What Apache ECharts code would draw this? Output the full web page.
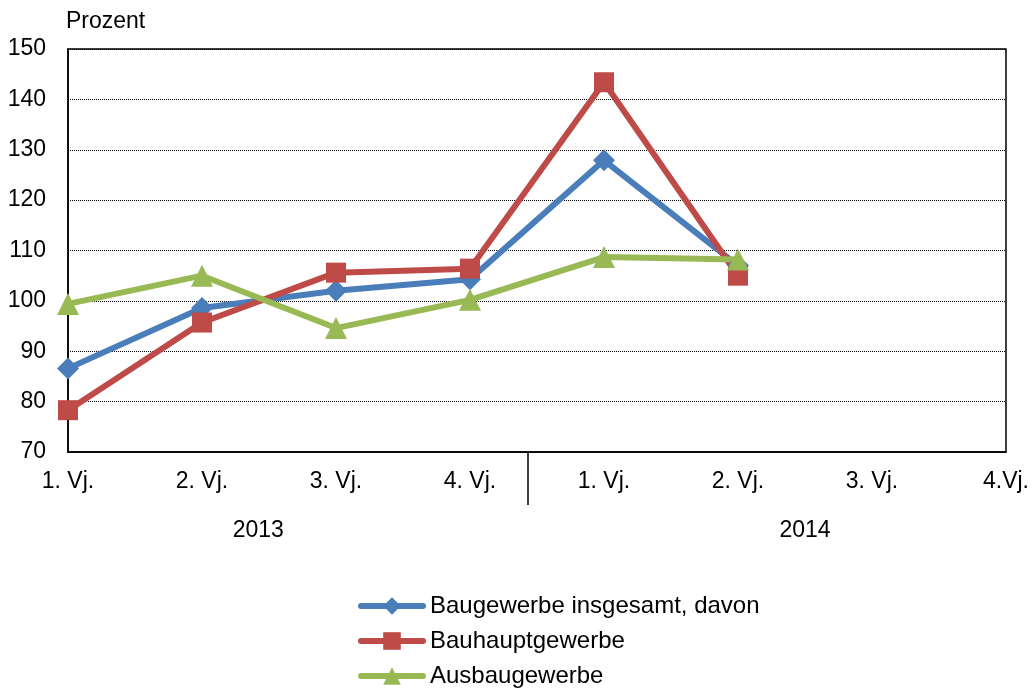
<!DOCTYPE html>
<html>
<head>
<meta charset="utf-8">
<script src="https://cdn.jsdelivr.net/npm/echarts@6/dist/echarts.min.js"></script>
<style>
    html, body { margin: 0; padding: 0; background: #fff; }
    #chart { width: 1032px; height: 691px; }
</style>
</head>
<body>
<div id="chart"></div>
<script>
    // Quartale 2013 / 2014
    var quarters = ['1. Vj.', '2. Vj.', '3. Vj.', '4. Vj.', '1. Vj.', '2. Vj.', '3. Vj.', '4.Vj.'];
    var years = ['2013', '2014'];
    var yearPos = [1.42, 5.5];     // Lage der Jahresbeschriftung (in Quartalsschritten)
    var yearBreak = [3.43];        // Trennstrich zwischen den Jahren

    var gesamt = [86.6, 98.6, 102.0, 104.3, 127.9, 107.0, null, null];
    var hauptgewerbe = [78.3, 95.7, 105.6, 106.4, 143.4, 105.0, null, null];
    var ausbaugewerbe = [99.4, 105.0, 94.6, 100.2, 108.7, 108.2, null, null];

    var font = 'Liberation Sans, Arial, sans-serif';
    var chart = echarts.init(document.getElementById('chart'));

    function lineSeries(name, data, color, symbol, size){
        return {
            name: name,
            type: 'line',
            data: data,
            xAxisIndex: 0,
            symbol: symbol,
            symbolSize: size,
            showAllSymbol: true,
            lineStyle: { color: color, width: 6 },
            itemStyle: { color: color },
            emphasis: { disabled: true },
            animation: false
        };
    }

    chart.setOption({
        backgroundColor: '#fff',
        animation: false,
        grid: {
            left: 68,
            right: 26,
            top: 49,
            bottom: 239,
            show: true,
            borderColor: '#000',
            borderWidth: 1.5
        },
        legend: {
            orient: 'vertical',
            left: 358,
            top: 594,
            padding: 0,
            itemWidth: 62,
            itemHeight: 22,
            itemGap: 11,
            lineStyle: { width: 6, cap: 'round' },
            textStyle: { fontFamily: font, fontSize: 24, lineHeight: 24, color: '#000', padding: [0, 0, 0, 2] },
            data: ['Baugewerbe insgesamt, davon', 'Bauhauptgewerbe', 'Ausbaugewerbe']
        },
        xAxis: [
            {
                type: 'category',
                data: quarters,
                boundaryGap: false,
                axisLine: { lineStyle: { color: '#000', width: 1.5 } },
                axisTick: { show: false },
                axisLabel: { fontFamily: font, fontSize: 23, color: '#000', margin: 18 },
                splitLine: { show: false }
            },
            {
                type: 'value',
                position: 'bottom',
                min: 0,
                max: 7,
                axisLine: { show: false },
                splitLine: { show: false },
                axisTick: {
                    show: true,
                    customValues: yearBreak,
                    length: 53,
                    lineStyle: { color: '#000', width: 1.5 }
                },
                axisLabel: {
                    customValues: yearPos,
                    fontFamily: font,
                    fontSize: 23,
                    color: '#000',
                    margin: 67,
                    formatter: function (v) {
                        var i = yearPos.indexOf(v);
                        return i >= 0 ? years[i] : '';
                    }
                }
            }
        ],
        yAxis: {
            type: 'value',
            min: 70,
            max: 150,
            interval: 10,
            name: 'Prozent',
            nameLocation: 'end',
            nameGap: 16,
            nameTextStyle: { fontFamily: font, fontSize: 23, color: '#000', align: 'left', padding: [0, 0, 0, -2] },
            axisLine: { show: true, lineStyle: { color: '#000', width: 1.5 } },
            axisTick: { show: false },
            axisLabel: { fontFamily: font, fontSize: 23, color: '#000', margin: 22 },
            splitLine: { lineStyle: { color: '#000', type: [1, 1], width: 1 } }
        },
        series: [
            lineSeries('Baugewerbe insgesamt, davon', gesamt, '#4a7ebb', 'diamond', 22),
            lineSeries('Bauhauptgewerbe', hauptgewerbe, '#be4b48', 'rect', 20),
            lineSeries('Ausbaugewerbe', ausbaugewerbe, '#98b954', 'triangle', 22)
        ]
    });
</script>
</body>
</html>
